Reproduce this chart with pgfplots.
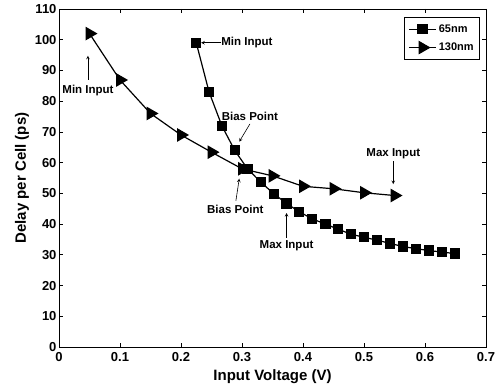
\documentclass[border=0pt]{standalone}
\usepackage{fontspec}
\setmainfont{Liberation Sans}
\usepackage{pgfplots}
\pgfplotsset{compat=1.18}
\begin{document}
\begin{tikzpicture}
\begin{axis}[
  scale only axis, width=427pt, height=338pt,
  xmin=0, xmax=0.7, ymin=0, ymax=110,
  xtick={0,0.1,...,0.7}, ytick={0,10,...,110},
  tick align=inside, major tick length=4pt,
  axis line style={line width=0.9pt}, tick style={line width=0.7pt, black},
  /pgf/number format/assume math mode=true,
  ticklabel style={font=\bfseries\fontsize{13}{13}\selectfont},
  yticklabel style={xshift=1pt},
  xticklabel style={yshift=-2pt, /pgf/number format/.cd, fixed, precision=1},
  xlabel={\bfseries Input Voltage (V)}, ylabel={\bfseries Delay per Cell (ps)},
  label style={font=\bfseries\fontsize{15}{15}\selectfont},
  xlabel style={yshift=-1pt}, ylabel style={yshift=-1pt},
  legend style={at={(0.986,0.975)}, anchor=north east, draw=black, line width=0.7pt,
    font=\bfseries\fontsize{11}{12}\selectfont, row sep=5pt, inner xsep=4pt, inner ysep=5pt},
  legend image code/.code={\draw[#1, mark repeat=2, mark phase=2] plot coordinates {(0cm,0cm)(0.48cm,0cm)(0.96cm,0cm)};},
  legend cell align=left,
  clip=false,
]
\addplot[black, line width=1.2pt, mark=square*, mark size=4.5pt, mark options={solid}] coordinates {
(0.225,99) (0.246,83) (0.267,72) (0.288,64) (0.309,58) (0.331,53.6) (0.352,49.9)
(0.373,46.7) (0.394,44) (0.415,41.7) (0.437,40) (0.458,38.3) (0.479,36.7) (0.500,35.7)
(0.521,34.8) (0.543,33.7) (0.564,32.7) (0.585,32) (0.606,31.4) (0.628,30.9) (0.649,30.4)};
\addlegendentry{65nm}
\addplot[black, line width=1.2pt, mark=triangle*, mark size=6.8pt, mark options={solid, rotate=-90}] coordinates {
(0.05,102) (0.10,86.9) (0.15,76) (0.20,69) (0.25,63.4) (0.30,58) (0.35,55.7)
(0.40,52.3) (0.45,51.5) (0.50,50.2) (0.55,49.3)};
\addlegendentry{130nm}
\begin{scope}[font=\bfseries\fontsize{11.5}{11.5}\selectfont, ->, >=stealth, line width=0.6pt]
\node[anchor=west, inner sep=1pt] at (axis cs:0.264,99) {Min Input};
\draw (axis cs:0.266,99) -- (axis cs:0.233,99);
\node[inner sep=1pt] at (axis cs:0.0475,83.6) {Min Input};
\draw (axis cs:0.0475,87) -- (axis cs:0.0475,94.8);
\node[inner sep=1pt] at (axis cs:0.313,75.2) {Bias Point};
\draw (axis cs:0.313,72.6) -- (axis cs:0.2955,66.8);
\node[inner sep=1pt] at (axis cs:0.289,44.9) {Bias Point};
\draw (axis cs:0.290,47.6) -- (axis cs:0.2955,54.8);
\node[inner sep=1pt] at (axis cs:0.373,33) {Max Input};
\draw (axis cs:0.373,35.6) -- (axis cs:0.373,43.6);
\node[inner sep=1pt] at (axis cs:0.548,63) {Max Input};
\draw (axis cs:0.548,60.5) -- (axis cs:0.548,53);
\end{scope}
\end{axis}
\pgfresetboundingbox
\path[use as bounding box] ([xshift=-59pt,yshift=-41pt]current axis.south west) rectangle ([xshift=15pt,yshift=9pt]current axis.north east);
\end{tikzpicture}
\end{document}
